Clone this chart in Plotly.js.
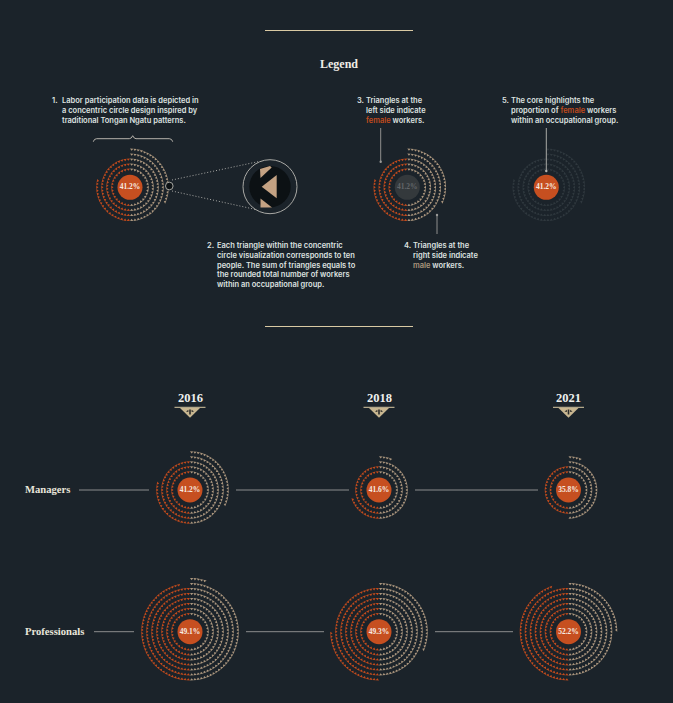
<!DOCTYPE html>
<html>
<head>
<meta charset="utf-8">
<script src="https://cdn.plot.ly/plotly-3.0.1.min.js"></script>
<style>html,body{margin:0;padding:0;background:#1b232a}</style>
</head>
<body>
<div id="chart" style="width:673px;height:703px"></div>
<script>
// one triangle = ten workers
const years = ['2016', '2018', '2021'];
const rowLabels = ['Managers', 'Professionals'];
const managersFemale = [84, 50, 39];
const managersMale = [120, 70, 70];
const managersPct = ['41.2%', '41.6%', '35.8%'];
const professionalsFemale = [217, 197, 215];
const professionalsMale = [225, 203, 197];
const professionalsPct = ['49.1%', '49.3%', '52.2%'];

const BG = '#1b232a';
const FEMALE = '#c24b1d';
const MALE = '#ab967e';
const CORE = '#c64f20';
const CREAM = '#d9c9a3';
const TEXT = '#dfe2e0';
const SANS = 'Inter, sans-serif';
const SERIF = '"Liberation Serif", serif';

const yearX = [190, 379, 568.5];
const rowY = [490, 631.7];
const RING_START = 18, RING_STEP = 5, DOT_GAP = 3.3;

// walks half rings from the inside out until count triangles are placed
function halfRings(cx, cy, count, side) {
  const xs = [], ys = [], angles = [];
  let left = count, r = RING_START;
  while (left > 0) {
    const n = Math.round(Math.PI * r / DOT_GAP);
    for (let i = 0; i < n && left > 0; i++, left--) {
      const th = (i + 0.5) / n * Math.PI;
      if (side === 'right') {
        xs.push(cx + r * Math.sin(th));
        ys.push(cy - r * Math.cos(th));
        angles.push(th * 180 / Math.PI + 180);
      } else {
        xs.push(cx - r * Math.sin(th));
        ys.push(cy + r * Math.cos(th));
        angles.push(th * 180 / Math.PI);
      }
    }
    r += RING_STEP;
  }
  return { xs, ys, angles };
}

function triTrace(cx, cy, count, side, color) {
  const p = halfRings(cx, cy, count, side);
  return {
    x: p.xs, y: p.ys, type: 'scatter', mode: 'markers', hoverinfo: 'skip',
    marker: { symbol: 'triangle-up', size: 2.9, color: color, angle: p.angles, line: { width: 0 } },
  };
}

function coreTrace(cx, cy, pct, fill, textColor) {
  return {
    x: [cx], y: [cy], text: [pct], type: 'scatter', mode: 'markers+text', hoverinfo: 'skip',
    textposition: 'middle center',
    textfont: { family: SERIF, size: 7.5, color: textColor, weight: 700 },
    marker: { size: 25, color: fill, line: { width: 0 } },
  };
}

function motif(cx, cy, f, m, pct, opts) {
  const o = opts || {};
  return [
    triTrace(cx, cy, f, 'left', o.female || FEMALE),
    triTrace(cx, cy, m, 'right', o.male || MALE),
    coreTrace(cx, cy, pct, o.core || CORE, o.coreText || '#f6ece2'),
  ];
}

const LEGEND_Y = 187.3;
const traces = [
  ...motif(130, LEGEND_Y, managersFemale[0], managersMale[0], managersPct[0]),
  ...motif(407.3, LEGEND_Y, managersFemale[0], managersMale[0], managersPct[0], { core: '#34393c', coreText: '#62666a' }),
  ...motif(546.3, LEGEND_Y, managersFemale[0], managersMale[0], managersPct[0], { female: '#2f383e', male: '#2f383e' }),
];
years.forEach((y, i) => {
  traces.push(...motif(yearX[i], rowY[0], managersFemale[i], managersMale[i], managersPct[i]));
  traces.push(...motif(yearX[i], rowY[1], professionalsFemale[i], professionalsMale[i], professionalsPct[i]));
});

function note(x, y, text, font) {
  return Object.assign({
    x: x, y: y, text: text, showarrow: false, xref: 'x', yref: 'y',
    xanchor: 'left', yanchor: 'top', align: 'left', borderpad: 0,
    font: Object.assign({ family: SANS, size: 7.5, color: TEXT, weight: 600 }, font || {}),
  });
}
function numbered(num, nx, tx, y, lines) {
  return [note(nx, y, num + '.'), note(tx, y, lines.join('<br>'))];
}
const fem = '<span style="color:' + FEMALE + '">female</span>';
const mal = '<span style="color:' + MALE + '">male</span>';

const annotations = [
  { x: 339, y: 63.5, text: 'Legend', showarrow: false, font: { family: SERIF, size: 12, color: '#f0ede6', weight: 700 } },
  ...numbered(1, 51, 61, 95.3, ['Labor participation data is depicted in', 'a concentric circle design inspired by', 'traditional Tongan Ngatu patterns.']),
  ...numbered(2, 206, 216, 240.3, ['Each triangle within the concentric', 'circle visualization corresponds to ten', 'people. The sum of triangles equals to', 'the rounded total number of workers', 'within an occupational group.']),
  ...numbered(3, 356, 365, 95.3, ['Triangles at the', 'left side indicate', fem + ' workers.']),
  ...numbered(4, 403, 412, 240.3, ['Triangles at the', 'right side indicate', mal + ' workers.']),
  ...numbered(5, 501, 510, 95.3, ['The core highlights the', 'proportion of ' + fem + ' workers', 'within an occupational group.']),
];
years.forEach((y, i) => {
  annotations.push({ x: yearX[i], y: 398, text: y, showarrow: false, font: { family: SERIF, size: 12.5, color: '#eef0ee', weight: 700 } });
});
rowLabels.forEach((label, i) => {
  annotations.push({ x: 23, y: rowY[i] - 0.5, text: label, showarrow: false, xanchor: 'left', font: { family: SERIF, size: 10.6, color: '#e9e6dc', weight: 700 } });
});

function hline(x0, x1, y, color, width) {
  return { type: 'line', x0: x0, x1: x1, y0: y, y1: y, line: { color: color, width: width || 1 } };
}
function seg(x0, y0, x1, y1, color, dash) {
  return { type: 'line', x0: x0, y0: y0, x1: x1, y1: y1, line: { color: color, width: 1, dash: dash || 'solid' } };
}
function ring(cx, cy, r, fill, stroke) {
  return { type: 'circle', x0: cx - r, x1: cx + r, y0: cy - r, y1: cy + r, fillcolor: fill, line: { color: stroke || fill, width: stroke ? 1 : 0 } };
}
function path(d, fill, stroke) {
  return { type: 'path', path: d, fillcolor: fill || 'rgba(0,0,0,0)', line: { color: stroke || 'rgba(0,0,0,0)', width: stroke ? 1 : 0 } };
}

const GREY = '#8c8d8d';
const shapes = [
  hline(265, 413, 30.5, CREAM), hline(265, 413, 326.5, CREAM),
  // brace over the first circle
  path('M93.3,141.7 Q94,138.7 96.7,138.7 L129.3,138.7 Q131.5,138.7 132.7,135.7 Q134,138.7 136,138.7 L169.3,138.7 Q172,138.7 172.7,141.7', null, '#b6b2aa'),
  // magnifier
  seg(172, 180, 258, 161.7, '#a9a9a6', '1px,2px'), seg(172, 191, 258, 210, '#a9a9a6', '1px,2px'),
  ring(169.3, 186, 3.8, '#0c1114', '#a5a5a0'),
  ring(270, 186.7, 27, BG, '#a9a9a5'),
  ring(270, 186.7, 20.7, '#0c1114'),
  path('M261.7,186.7 L276.7,175 L276.7,198.3 Z', '#c4a283'),
  path('M260,169 L270,166 L271.7,167.5 L260.5,178 Z', '#c4a283'),
  path('M260.5,198.5 L272,207.5 L260.5,207.5 Z', '#c4a283'),
  // pointers
  seg(380.7, 128, 380.7, 161, '#8f8f8d'), ring(380.7, 161.7, 1.2, '#9a9a98'),
  seg(437, 234, 437, 215, '#8f8f8d'), ring(437, 215, 1.2, '#9a9a98'),
  seg(546.3, 128, 546.3, 171, '#a9a9a6'), ring(546.3, 171, 1.2, '#b5b5b2'),
  // row connectors
  hline(79, 149, rowY[0], GREY), hline(236, 349, rowY[0], GREY), hline(415, 538, rowY[0], GREY),
  hline(94, 134, rowY[1], GREY), hline(246, 324, rowY[1], GREY), hline(435, 513, rowY[1], GREY),
];
yearX.forEach(x => {
  shapes.push(hline(x - 15.5, x + 15.5, 407.3, CREAM));
  shapes.push(path('M' + (x - 10) + ',408 L' + (x + 10) + ',408 L' + x + ',417.7 Z', '#c8b690'));
  shapes.push(path('M' + (x - 0.8) + ',409.5 L' + (x + 0.8) + ',409.5 L' + (x + 0.8) + ',414.5 L' + (x - 0.8) + ',414.5 Z', '#2a2a28'));
  shapes.push(path('M' + (x - 4) + ',411.5 L' + (x - 1.6) + ',409.8 L' + (x - 1.6) + ',412 Z', '#2a2a28'));
  shapes.push(path('M' + (x + 4) + ',411.5 L' + (x + 1.6) + ',409.8 L' + (x + 1.6) + ',412 Z', '#2a2a28'));
});

const layout = {
  width: 673, height: 703, autosize: false,
  margin: { l: 0, r: 0, t: 0, b: 0 },
  paper_bgcolor: BG, plot_bgcolor: BG,
  showlegend: false, hovermode: false,
  xaxis: { range: [0, 673], visible: false, fixedrange: true },
  yaxis: { range: [703, 0], visible: false, fixedrange: true },
  shapes: shapes, annotations: annotations,
};
Plotly.newPlot('chart', traces, layout, { displayModeBar: false, staticPlot: true });
</script>
</body>
</html>
